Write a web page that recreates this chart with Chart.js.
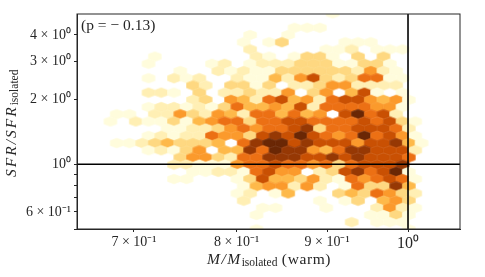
<!DOCTYPE html>
<html>
<head>
<meta charset="utf-8">
<script src="https://cdn.jsdelivr.net/npm/chart.js@4"></script>
<style>
html, body { margin: 0; padding: 0; background: #fff; }
canvas { display: block; }
</style>
</head>
<body>
<canvas id="myChart" width="485" height="277"></canvas>
<script>
// hex centres
const hexY = [5.033, 4.659, 4.313, 3.993, 3.697, 3.422, 3.168, 2.933, 2.715, 2.514, 2.327,
  2.154, 1.994, 1.846, 1.709, 1.582, 1.465, 1.356, 1.255, 1.162, 1.076, 0.996, 0.922,
  0.854, 0.790, 0.732, 0.677, 0.627, 0.581, 0.538, 0.498];
const xOdd = [.6677, .6789, .6902, .7017, .7134, .7253, .7374, .7496, .7621, .7748, .7877, .8009, .8142,
  .8278, .8416, .8556, .8699, .8844, .8991, .9141, .9293, .9448, .9606, .9766, .9929, 1.0094, 1.0263];
const xEven = [.6622, .6733, .6845, .6959, .7075, .7193, .7313, .7435, .7559, .7685, .7813, .7943, .8075,
  .8210, .8347, .8486, .8627, .8771, .8917, .9066, .9217, .9370, .9527, .9686, .9847, 1.0011, 1.0178];

// one string per row, density level 1-9, '.' is an empty bin
const hexLevels = [
  "...................1.......",
  "...........................",
  "................111........",
  "............1..1...........",
  "............1.13....111....",
  "............2.....112.111..",
  ".....1.......21.1331.3.3...",
  "....1....12.122233311331...",
  ".......1..212113333332521..",
  "....1.212..21142573236611..",
  "........32.3313.223552222..",
  "....221.3.223225.35.471.1..",
  "........23.542674526775451.",
  "....122121364454726666551..",
  "..11.22532542664645.79672..",
  ".1.21131456636677666676731.",
  "......11223565667836677762.",
  "....1212265537879765696751.",
  "..112343334.689978777577841",
  "....12135.4486988546887772.",
  ".......3553266888778787776.",
  "......2211156676656367778..",
  "........112216755.23786791.",
  "......11...137443521656761.",
  "............1455252.163384.",
  "...........12.14...3436532.",
  "............2.....1.13.453.",
  ".............11...1...2521.",
  ".............1........1131.",
  "....................2.111..",
  ".............1...........1."
];

const levelColors = ['#fffcdc', '#ffefb4', '#fed881', '#feb94a', '#fb9a2c', '#ec7014', '#c95003', '#963804', '#6a2705'];

const xTicks = [0.7, 0.8, 0.9, 1];
const xTickLabels = ['7 × 10⁻¹', '8 × 10⁻¹', '9 × 10⁻¹', '10⁰'];
const yTicks = [0.5, 0.6, 0.7, 0.8, 0.9, 1, 2, 3, 4];
const yTickLabels = ['', '6 × 10⁻¹', '', '', '', '10⁰', '2 × 10⁰', '3 × 10⁰', '4 × 10⁰'];

const corrLabel = '(p = − 0.13)';

const hexPoints = [];
hexLevels.forEach((row, i) => {
  const xs = i % 2 ? xOdd : xEven;
  row.split('').forEach((c, k) => {
    if (c !== '.') hexPoints.push({ x: xs[k], y: hexY[i], level: +c });
  });
});

// hexagon stamps, one per level
function hexStamp(color) {
  const c = document.createElement('canvas');
  c.width = 16;
  c.height = 12;
  const g = c.getContext('2d');
  const w = 6.375;
  g.fillStyle = color;
  g.strokeStyle = color;
  g.lineWidth = 0.7;
  g.beginPath();
  g.moveTo(8, 6 - 4.8);
  g.lineTo(8 + w, 6 - 2.4);
  g.lineTo(8 + w, 6 + 2.4);
  g.lineTo(8, 6 + 4.8);
  g.lineTo(8 - w, 6 + 2.4);
  g.lineTo(8 - w, 6 - 2.4);
  g.closePath();
  g.fill();
  g.stroke();
  return c;
}
const stamps = levelColors.map(hexStamp);

const serif = '"Liberation Serif", serif';
const textColor = '#262626';

function drawParts(g, parts) {
  let x = 0;
  parts.forEach(p => {
    g.font = p.font;
    g.letterSpacing = p.spacing || '0px';
    g.fillText(p.text, x, p.dy || 0);
    x += g.measureText(p.text).width;
  });
  g.letterSpacing = '0px';
}

const frameAndLabels = {
  id: 'frameAndLabels',
  afterDraw(chart) {
    const g = chart.ctx;
    const a = chart.chartArea;
    g.save();
    g.strokeStyle = textColor;
    g.lineWidth = 1;
    g.strokeRect(a.left, a.top, a.right - a.left, a.bottom - a.top);
    g.fillStyle = textColor;
    g.textBaseline = 'alphabetic';
    g.font = '15.5px ' + serif;
    g.fillText(corrLabel, 81, 30);

    g.save();
    g.translate(207, 264);
    drawParts(g, [
      { text: 'M/M', font: 'italic 15.5px ' + serif, spacing: '1.5px' },
      { text: 'isolated', font: '11.5px ' + serif, dy: 2 },
      { text: ' (warm)', font: '15.5px ' + serif, spacing: '0.6px' }
    ]);
    g.restore();

    g.save();
    g.translate(16, 177);
    g.rotate(-Math.PI / 2);
    drawParts(g, [
      { text: 'SFR/SFR', font: 'italic 15.5px ' + serif, spacing: '2px' },
      { text: 'isolated', font: '11.5px ' + serif, dy: 2 }
    ]);
    g.restore();
    g.restore();
  }
};

const ctx = document.getElementById('myChart');

new Chart(ctx, {
  type: 'scatter',
  data: {
    datasets: [
      {
        data: [{ x: 1, y: 0.5 }, { x: 1, y: 5 }],
        showLine: true,
        borderColor: '#000',
        borderWidth: 1.6,
        pointRadius: 0,
        order: 0
      },
      {
        data: [{ x: 0.65, y: 1 }, { x: 1.07, y: 1 }],
        showLine: true,
        borderColor: '#000',
        borderWidth: 1.6,
        pointRadius: 0,
        order: 0
      },
      {
        data: hexPoints,
        pointStyle: c => stamps[c.raw.level - 1],
        pointRadius: 7,
        clip: 0,
        order: 1
      }
    ]
  },
  options: {
    responsive: false,
    animation: false,
    layout: { padding: { top: 14, right: 25 } },
    plugins: { legend: { display: false }, tooltip: { enabled: false } },
    scales: {
      x: {
        type: 'logarithmic',
        min: 0.65,
        max: 1.07,
        afterBuildTicks: s => { s.ticks = xTicks.map(v => ({ value: v })); },
        afterFit: s => { s.height = 48; },
        grid: { drawOnChartArea: false, tickLength: 3, tickColor: textColor },
        border: { color: textColor },
        ticks: {
          autoSkip: false,
          maxRotation: 0,
          padding: 2,
          color: textColor,
          font: c => ({ family: serif, size: c.index === 3 ? 16 : 14 }),
          callback: (v, i) => xTickLabels[i]
        }
      },
      y: {
        type: 'logarithmic',
        min: 0.5,
        max: 5,
        afterBuildTicks: s => { s.ticks = yTicks.map(v => ({ value: v })); },
        afterFit: s => { s.width = 77; },
        grid: { drawOnChartArea: false, tickLength: 3, tickColor: textColor },
        border: { color: textColor },
        ticks: {
          autoSkip: false,
          padding: 3,
          color: textColor,
          font: { family: serif, size: 14 },
          callback: (v, i) => yTickLabels[i]
        }
      }
    }
  },
  plugins: [frameAndLabels]
});
</script>
</body>
</html>
